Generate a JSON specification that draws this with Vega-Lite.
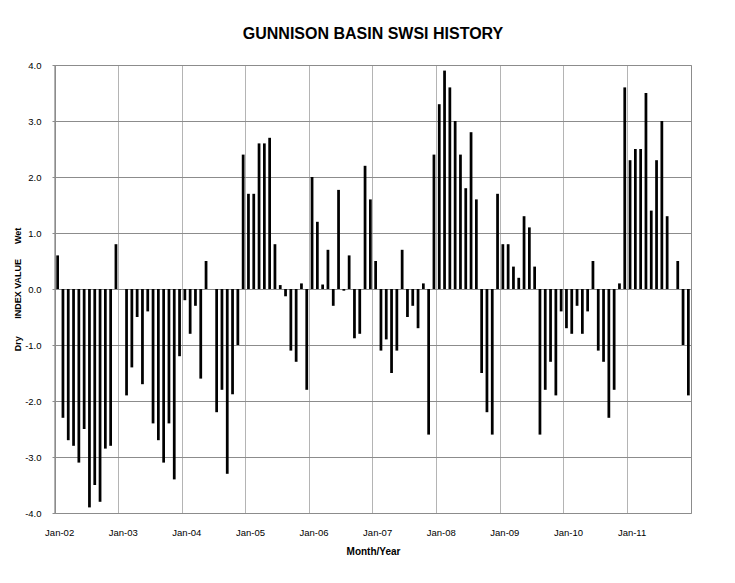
{
  "$schema": "https://vega.github.io/schema/vega-lite/v6.json",
  "width": 636,
  "height": 448,
  "autosize": {"type": "none"},
  "padding": {"left": 55, "top": 65, "right": 44, "bottom": 70},
  "background": "white",
  "title": {
    "text": "GUNNISON BASIN SWSI HISTORY",
    "font": "Liberation Sans",
    "fontSize": 16,
    "fontWeight": "bold",
    "color": "#000000",
    "anchor": "middle",
    "offset": 18
  },
  "data": {
    "values": [
      {"month": "2002-01", "swsi": 0.6}, {"month": "2002-02", "swsi": -2.3}, {"month": "2002-03", "swsi": -2.7}, {"month": "2002-04", "swsi": -2.8},
      {"month": "2002-05", "swsi": -3.1}, {"month": "2002-06", "swsi": -2.5}, {"month": "2002-07", "swsi": -3.9}, {"month": "2002-08", "swsi": -3.5},
      {"month": "2002-09", "swsi": -3.8}, {"month": "2002-10", "swsi": -2.85}, {"month": "2002-11", "swsi": -2.8}, {"month": "2002-12", "swsi": 0.8},
      {"month": "2003-01", "swsi": 0}, {"month": "2003-02", "swsi": -1.9}, {"month": "2003-03", "swsi": -1.4}, {"month": "2003-04", "swsi": -0.5},
      {"month": "2003-05", "swsi": -1.7}, {"month": "2003-06", "swsi": -0.4}, {"month": "2003-07", "swsi": -2.4}, {"month": "2003-08", "swsi": -2.7},
      {"month": "2003-09", "swsi": -3.1}, {"month": "2003-10", "swsi": -2.4}, {"month": "2003-11", "swsi": -3.4}, {"month": "2003-12", "swsi": -1.2},
      {"month": "2004-01", "swsi": -0.2}, {"month": "2004-02", "swsi": -0.8}, {"month": "2004-03", "swsi": -0.3}, {"month": "2004-04", "swsi": -1.6},
      {"month": "2004-05", "swsi": 0.5}, {"month": "2004-06", "swsi": 0}, {"month": "2004-07", "swsi": -2.2}, {"month": "2004-08", "swsi": -1.8},
      {"month": "2004-09", "swsi": -3.3}, {"month": "2004-10", "swsi": -1.88}, {"month": "2004-11", "swsi": -1.0}, {"month": "2004-12", "swsi": 2.4},
      {"month": "2005-01", "swsi": 1.7}, {"month": "2005-02", "swsi": 1.7}, {"month": "2005-03", "swsi": 2.6}, {"month": "2005-04", "swsi": 2.6},
      {"month": "2005-05", "swsi": 2.7}, {"month": "2005-06", "swsi": 0.8}, {"month": "2005-07", "swsi": 0.07}, {"month": "2005-08", "swsi": -0.13},
      {"month": "2005-09", "swsi": -1.1}, {"month": "2005-10", "swsi": -1.3}, {"month": "2005-11", "swsi": 0.1}, {"month": "2005-12", "swsi": -1.8},
      {"month": "2006-01", "swsi": 2.0}, {"month": "2006-02", "swsi": 1.2}, {"month": "2006-03", "swsi": 0.08}, {"month": "2006-04", "swsi": 0.7},
      {"month": "2006-05", "swsi": -0.3}, {"month": "2006-06", "swsi": 1.77}, {"month": "2006-07", "swsi": -0.03}, {"month": "2006-08", "swsi": 0.6},
      {"month": "2006-09", "swsi": -0.88}, {"month": "2006-10", "swsi": -0.8}, {"month": "2006-11", "swsi": 2.2}, {"month": "2006-12", "swsi": 1.6},
      {"month": "2007-01", "swsi": 0.5}, {"month": "2007-02", "swsi": -1.1}, {"month": "2007-03", "swsi": -0.9}, {"month": "2007-04", "swsi": -1.5},
      {"month": "2007-05", "swsi": -1.1}, {"month": "2007-06", "swsi": 0.7}, {"month": "2007-07", "swsi": -0.5}, {"month": "2007-08", "swsi": -0.3},
      {"month": "2007-09", "swsi": -0.7}, {"month": "2007-10", "swsi": 0.1}, {"month": "2007-11", "swsi": -2.6}, {"month": "2007-12", "swsi": 2.4},
      {"month": "2008-01", "swsi": 3.3}, {"month": "2008-02", "swsi": 3.9}, {"month": "2008-03", "swsi": 3.6}, {"month": "2008-04", "swsi": 3.0},
      {"month": "2008-05", "swsi": 2.4}, {"month": "2008-06", "swsi": 1.8}, {"month": "2008-07", "swsi": 2.8}, {"month": "2008-08", "swsi": 1.6},
      {"month": "2008-09", "swsi": -1.5}, {"month": "2008-10", "swsi": -2.2}, {"month": "2008-11", "swsi": -2.6}, {"month": "2008-12", "swsi": 1.7},
      {"month": "2009-01", "swsi": 0.8}, {"month": "2009-02", "swsi": 0.8}, {"month": "2009-03", "swsi": 0.4}, {"month": "2009-04", "swsi": 0.2},
      {"month": "2009-05", "swsi": 1.3}, {"month": "2009-06", "swsi": 1.1}, {"month": "2009-07", "swsi": 0.4}, {"month": "2009-08", "swsi": -2.6},
      {"month": "2009-09", "swsi": -1.8}, {"month": "2009-10", "swsi": -1.3}, {"month": "2009-11", "swsi": -1.9}, {"month": "2009-12", "swsi": -0.4},
      {"month": "2010-01", "swsi": -0.7}, {"month": "2010-02", "swsi": -0.8}, {"month": "2010-03", "swsi": -0.3}, {"month": "2010-04", "swsi": -0.8},
      {"month": "2010-05", "swsi": -0.4}, {"month": "2010-06", "swsi": 0.5}, {"month": "2010-07", "swsi": -1.1}, {"month": "2010-08", "swsi": -1.3},
      {"month": "2010-09", "swsi": -2.3}, {"month": "2010-10", "swsi": -1.8}, {"month": "2010-11", "swsi": 0.1}, {"month": "2010-12", "swsi": 3.6},
      {"month": "2011-01", "swsi": 2.3}, {"month": "2011-02", "swsi": 2.5}, {"month": "2011-03", "swsi": 2.5}, {"month": "2011-04", "swsi": 3.5},
      {"month": "2011-05", "swsi": 1.4}, {"month": "2011-06", "swsi": 2.3}, {"month": "2011-07", "swsi": 3.0}, {"month": "2011-08", "swsi": 1.3},
      {"month": "2011-09", "swsi": 0}, {"month": "2011-10", "swsi": 0.5}, {"month": "2011-11", "swsi": -1.0}, {"month": "2011-12", "swsi": -1.9}
    ]
  },
  "mark": {"type": "bar", "color": "#000000"},
  "encoding": {
    "x": {
      "field": "month",
      "type": "ordinal",
      "sort": null,
      "scale": {"paddingInner": 0.48, "paddingOuter": 0.24},
      "axis": {
        "values": ["2002-01", "2003-01", "2004-01", "2005-01", "2006-01", "2007-01", "2008-01", "2009-01", "2010-01", "2011-01"],
        "labelExpr": "'Jan-' + slice(datum.value, 2, 4)",
        "bandPosition": -0.5,
        "labelOffset": 2,
        "grid": true,
        "gridColor": "#b4b4b4",
        "gridWidth": 1,
        "ticks": false,
        "domain": false,
        "labelAngle": 0,
        "labelPadding": 14,
        "labelFont": "Liberation Sans",
        "labelFontSize": 9.5,
        "labelColor": "#000000",
        "title": "Month/Year",
        "titleFont": "Liberation Sans",
        "titleFontSize": 10,
        "titleFontWeight": "bold",
        "titleColor": "#000000",
        "titlePadding": 10
      }
    },
    "y": {
      "field": "swsi",
      "type": "quantitative",
      "scale": {"domain": [-4, 4], "nice": false},
      "axis": {
        "values": [-4, -3, -2, -1, 0, 1, 2, 3, 4],
        "format": ".1f",
        "grid": true,
        "gridColor": "#8c8c8c",
        "domainColor": "#8c8c8c",
        "tickColor": "#8c8c8c",
        "tickSize": 3,
        "labelPadding": 11,
        "labelFont": "Liberation Sans",
        "labelFontSize": 9.5,
        "labelColor": "#000000",
        "title": "Dry\u00a0\u00a0\u00a0\u00a0\u00a0\u00a0\u00a0INDEX VALUE\u00a0\u00a0\u00a0\u00a0\u00a0\u00a0Wet",
        "titleFont": "Liberation Sans",
        "titleFontSize": 9,
        "titleFontWeight": "bold",
        "titleColor": "#000000",
        "titlePadding": 2
      }
    }
  },
  "config": {
    "view": {"stroke": "#8c8c8c"},
    "locale": {"number": {"decimal": ".", "thousands": ",", "grouping": [3], "currency": ["$", ""], "minus": "-"}}
  }
}
